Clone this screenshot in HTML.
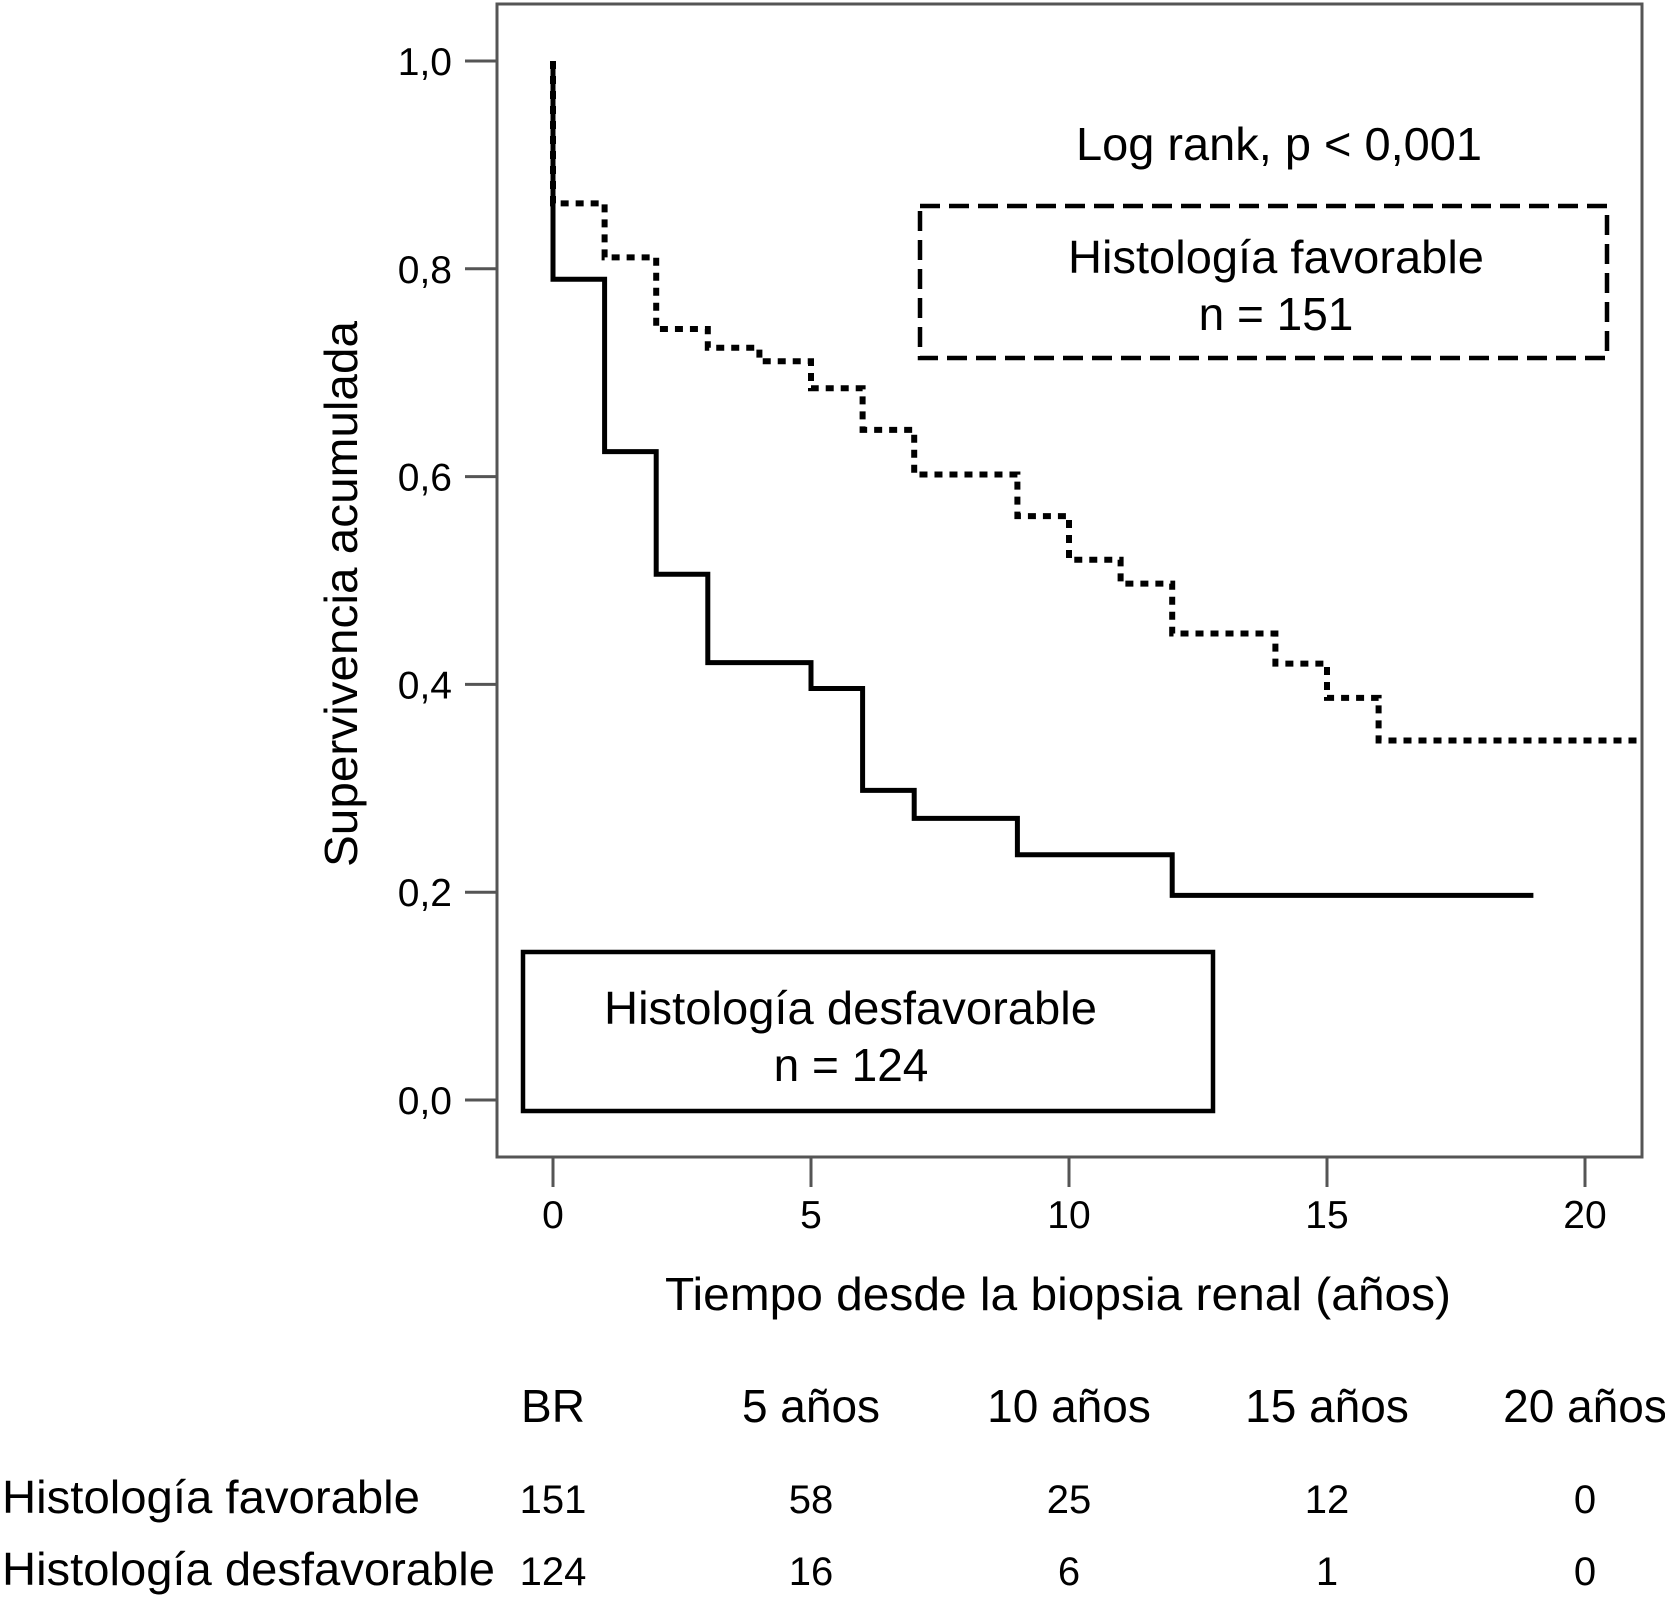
<!DOCTYPE html>
<html><head><meta charset="utf-8"><style>
html,body{margin:0;padding:0;background:#fff;}
svg{display:block;font-family:"Liberation Sans",sans-serif;}
</style></head><body>
<svg id="chart" width="1665" height="1597" viewBox="0 0 1665 1597" xmlns="http://www.w3.org/2000/svg">
<rect x="497" y="4" width="1145" height="1153" fill="none" stroke="#555" stroke-width="3"/>
<g id="axes"></g>
<g id="curves"></g>
<text x="1076" y="160" font-size="46" textLength="406" lengthAdjust="spacingAndGlyphs">Log rank, p &lt; 0,001</text>
<rect x="920" y="206" width="687" height="152" fill="none" stroke="#000" stroke-width="4.5" stroke-dasharray="20 9"/>
<text x="1068" y="273" font-size="46" textLength="416" lengthAdjust="spacingAndGlyphs">Histología favorable</text>
<text x="1276" y="330" font-size="46" text-anchor="middle">n = 151</text>
<rect x="523" y="952" width="690" height="159" fill="none" stroke="#000" stroke-width="4.5"/>
<text x="604" y="1024" font-size="46" textLength="493" lengthAdjust="spacingAndGlyphs">Histología desfavorable</text>
<text x="851" y="1081" font-size="46" text-anchor="middle">n = 124</text>
<text transform="translate(357,867) rotate(-90)" font-size="46" textLength="546" lengthAdjust="spacingAndGlyphs">Supervivencia acumulada</text>
<text x="665" y="1310" font-size="46" textLength="786" lengthAdjust="spacingAndGlyphs">Tiempo desde la biopsia renal (años)</text>
<g id="table"></g>
</svg>
<script>
const yTicks = [0, 0.2, 0.4, 0.6, 0.8, 1.0];
const yTickLabels = ["0,0", "0,2", "0,4", "0,6", "0,8", "1,0"];
const xTicks = [0, 5, 10, 15, 20];
const xTickLabels = ["0", "5", "10", "15", "20"];
const unfavTimes = [0, 1, 2, 3, 5, 6, 7, 9, 12, 19];
const unfavSurv = [0.790, 0.624, 0.506, 0.421, 0.396, 0.298, 0.271, 0.236, 0.197, 0.197];
const favTimes = [0, 1, 2, 3, 4, 5, 6, 7, 9, 10, 11, 12, 14, 15, 16, 21];
const favSurv = [0.863, 0.811, 0.742, 0.724, 0.711, 0.685, 0.645, 0.602, 0.562, 0.520, 0.497, 0.449, 0.420, 0.387, 0.346, 0.346];
const tableCols = ["BR", "5 años", "10 años", "15 años", "20 años"];
const tableColTimes = [0, 5, 10, 15, 20];
const rowLabels = ["Histología favorable", "Histología desfavorable"];
const favAtRisk = ["151", "58", "25", "12", "0"];
const unfavAtRisk = ["124", "16", "6", "1", "0"];

const NS = "http://www.w3.org/2000/svg";
const X = t => 553 + t * 51.6;
const Y = v => 1100 - v * 1039;
function mk(tag, attrs, parent, text) {
  const e = document.createElementNS(NS, tag);
  for (const k in attrs) e.setAttribute(k, attrs[k]);
  if (text !== undefined) e.textContent = text;
  parent.appendChild(e);
  return e;
}
const axes = document.getElementById('axes');
yTicks.forEach((v, i) => {
  const l = mk('line', {x1: 465, x2: 497, y1: Y(v), y2: Y(v), stroke: '#555', 'stroke-width': 3}, axes);
  
  
  const t = mk('text', {x: 452, y: Y(v) + 14, 'font-size': 39, 'text-anchor': 'end'}, axes, yTickLabels[i]);
  
  
});
xTicks.forEach((v, i) => {
  const l = mk('line', {x1: X(v), x2: X(v), y1: 1157, y2: 1187, stroke: '#555', 'stroke-width': 3}, axes);
  
  
  const t = mk('text', {x: X(v), y: 1228, 'font-size': 39, 'text-anchor': 'middle'}, axes, xTickLabels[i]);
  
  
});
function stepPath(times, surv) {
  let d = 'M' + X(0) + ',' + Y(1);
  for (let i = 0; i < times.length; i++) {
    d += ' L' + X(times[i]) + ',' + Y(i === 0 ? 1 : surv[i - 1]);
    d += ' L' + X(times[i]) + ',' + Y(surv[i]);
  }
  return d;
}
const curves = document.getElementById('curves');
const pf = mk('path', {d: stepPath(favTimes, favSurv), fill: 'none', stroke: '#000', 'stroke-width': 6, 'stroke-dasharray': '8 7'}, curves);


const pu = mk('path', {d: stepPath(unfavTimes, unfavSurv), fill: 'none', stroke: '#000', 'stroke-width': 5}, curves);



const table = document.getElementById('table');
tableCols.forEach((c, i) => {
  const t = mk('text', {x: X(tableColTimes[i]), y: 1422, 'font-size': 46, 'text-anchor': 'middle'}, table, c);
  
  
  const a = mk('text', {x: X(tableColTimes[i]), y: 1513, 'font-size': 40, 'text-anchor': 'middle'}, table, favAtRisk[i]);
  
  
  const b = mk('text', {x: X(tableColTimes[i]), y: 1585, 'font-size': 40, 'text-anchor': 'middle'}, table, unfavAtRisk[i]);
  
  
});
rowLabels.forEach((r, i) => {
  const t = mk('text', {x: 2, y: i === 0 ? 1513 : 1585, 'font-size': 46, textLength: i === 0 ? 418 : 493, lengthAdjust: 'spacingAndGlyphs'}, table, r);
  
  
});
</script>
</body></html>
